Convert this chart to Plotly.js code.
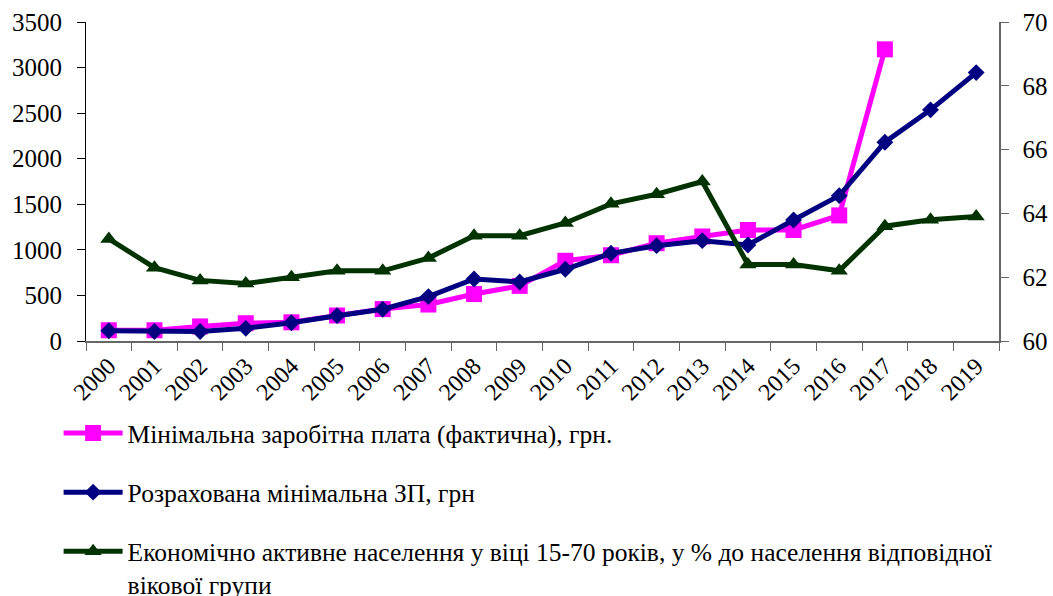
<!DOCTYPE html>
<html>
<head>
<meta charset="utf-8">
<script src="https://cdn.plot.ly/plotly-3.0.1.min.js"></script>
<style>html,body{margin:0;padding:0;background:#fff;}#chart{width:1053px;height:596px;}</style>
</head>
<body>
<div id="chart"></div>
<script>
var years = ['2000','2001','2002','2003','2004','2005','2006','2007','2008','2009','2010','2011','2012','2013','2014','2015','2016','2017','2018','2019'];
var minWageActual = [118,118,160,195,205,280,350,400,515,605,880,941,1073,1147,1218,1218,1378,3200,null,null];
var minWageCalc = [113,105,105,139,201,278,348,487,680,648,787,962,1046,1101,1054,1328,1595,2181,2536,2945];
var activePop = [63.2,62.3,61.9,61.8,62.0,62.2,62.2,62.6,63.3,63.3,63.7,64.3,64.6,65.0,62.4,62.4,62.2,63.6,63.8,63.9];

var leftTicks = [0,500,1000,1500,2000,2500,3000,3500];
var rightTicks = [60,62,64,66,68,70];

var nameActual = 'Мінімальна заробітна плата (фактична), грн.';
var nameCalc = 'Розрахована мінімальна ЗП, грн';
var nameActive = 'Економічно активне населення у віці 15-70 років, у % до населення відповідної<br>вікової групи';

var FONT = 'Liberation Serif';

var traces = [
  {x: years, y: minWageActual, name: nameActual, type: 'scatter', mode: 'lines+markers',
   legendgroup: 'a', line: {color: '#FF00FF', width: 5},
   marker: {symbol: 'square', size: 16, color: '#FF00FF'}},
  {x: years, y: minWageCalc, name: nameCalc, type: 'scatter', mode: 'lines+markers',
   legendgroup: 'b', line: {color: '#000080', width: 5},
   marker: {symbol: 'diamond', size: 13, color: '#000080'}},
  {x: years, y: activePop, name: nameActive, type: 'scatter', mode: 'lines+markers',
   legendgroup: 'c', yaxis: 'y2', line: {color: '#003300', width: 5},
   marker: {symbol: 'triangle-up', size: 15, color: '#003300'}}
];

var layout = {
  width: 1053, height: 596,
  margin: {l: 86, r: 54, t: 22, b: 255, autoexpand: false},
  paper_bgcolor: '#fff', plot_bgcolor: '#fff',
  font: {family: FONT, color: '#000', size: 22},
  showlegend: true,
  legend: {x: -0.03, xanchor: 'left', y: -0.216, yanchor: 'top',
           font: {family: FONT, size: 25.5, color: '#000'},
           tracegroupgap: 23, valign: 'top', itemwidth: 59, bgcolor: 'rgba(0,0,0,0)'},
  xaxis: {type: 'category', range: [-0.5, 19.5], tickson: 'boundaries',
          ticks: 'outside', ticklen: 8, tickcolor: '#666', tickwidth: 1,
          showline: true, linecolor: '#666', linewidth: 1.5, showgrid: false, zeroline: false,
          tickangle: -45, tickfont: {family: FONT, size: 24, color: '#000'}},
  xaxis2: {overlaying: 'x', type: 'linear', range: [-0.5, 19.5], tick0: -0.5, dtick: 1,
           ticks: 'inside', ticklen: 8, tickcolor: '#666', tickwidth: 1,
           showticklabels: false, showline: false, showgrid: false, zeroline: false, anchor: 'y'},
  yaxis: {range: [0, 3500], tickvals: leftTicks, ticktext: leftTicks.map(String),
          ticks: 'outside', ticklen: 8, tickcolor: '#000', tickwidth: 1,
          showline: true, linecolor: '#000', linewidth: 1, showgrid: false, zeroline: false,
          ticklabelstandoff: 10,
          tickfont: {family: FONT, size: 25, color: '#000'}},
  yaxis3: {overlaying: 'y', side: 'left', range: [0, 3500], tickvals: leftTicks,
           ticks: 'inside', ticklen: 8, tickcolor: '#000', tickwidth: 1,
           showticklabels: false, showline: false, showgrid: false, zeroline: false, anchor: 'x'},
  yaxis2: {overlaying: 'y', side: 'right', anchor: 'x', range: [60, 70], tickvals: rightTicks,
           ticktext: rightTicks.map(String),
           ticks: 'outside', ticklen: 8, tickcolor: '#666', tickwidth: 1,
           showline: true, linecolor: '#666', linewidth: 1.5, showgrid: false, zeroline: false,
           ticklabelstandoff: 9,
           tickfont: {family: FONT, size: 25, color: '#000'}},
  yaxis4: {overlaying: 'y', side: 'right', anchor: 'x', range: [60, 70], tickvals: rightTicks,
           ticks: 'inside', ticklen: 8, tickcolor: '#666', tickwidth: 1,
           showticklabels: false, showline: false, showgrid: false, zeroline: false}
};

Plotly.newPlot('chart', traces, layout, {displayModeBar: false, staticPlot: true});
</script>
</body>
</html>
